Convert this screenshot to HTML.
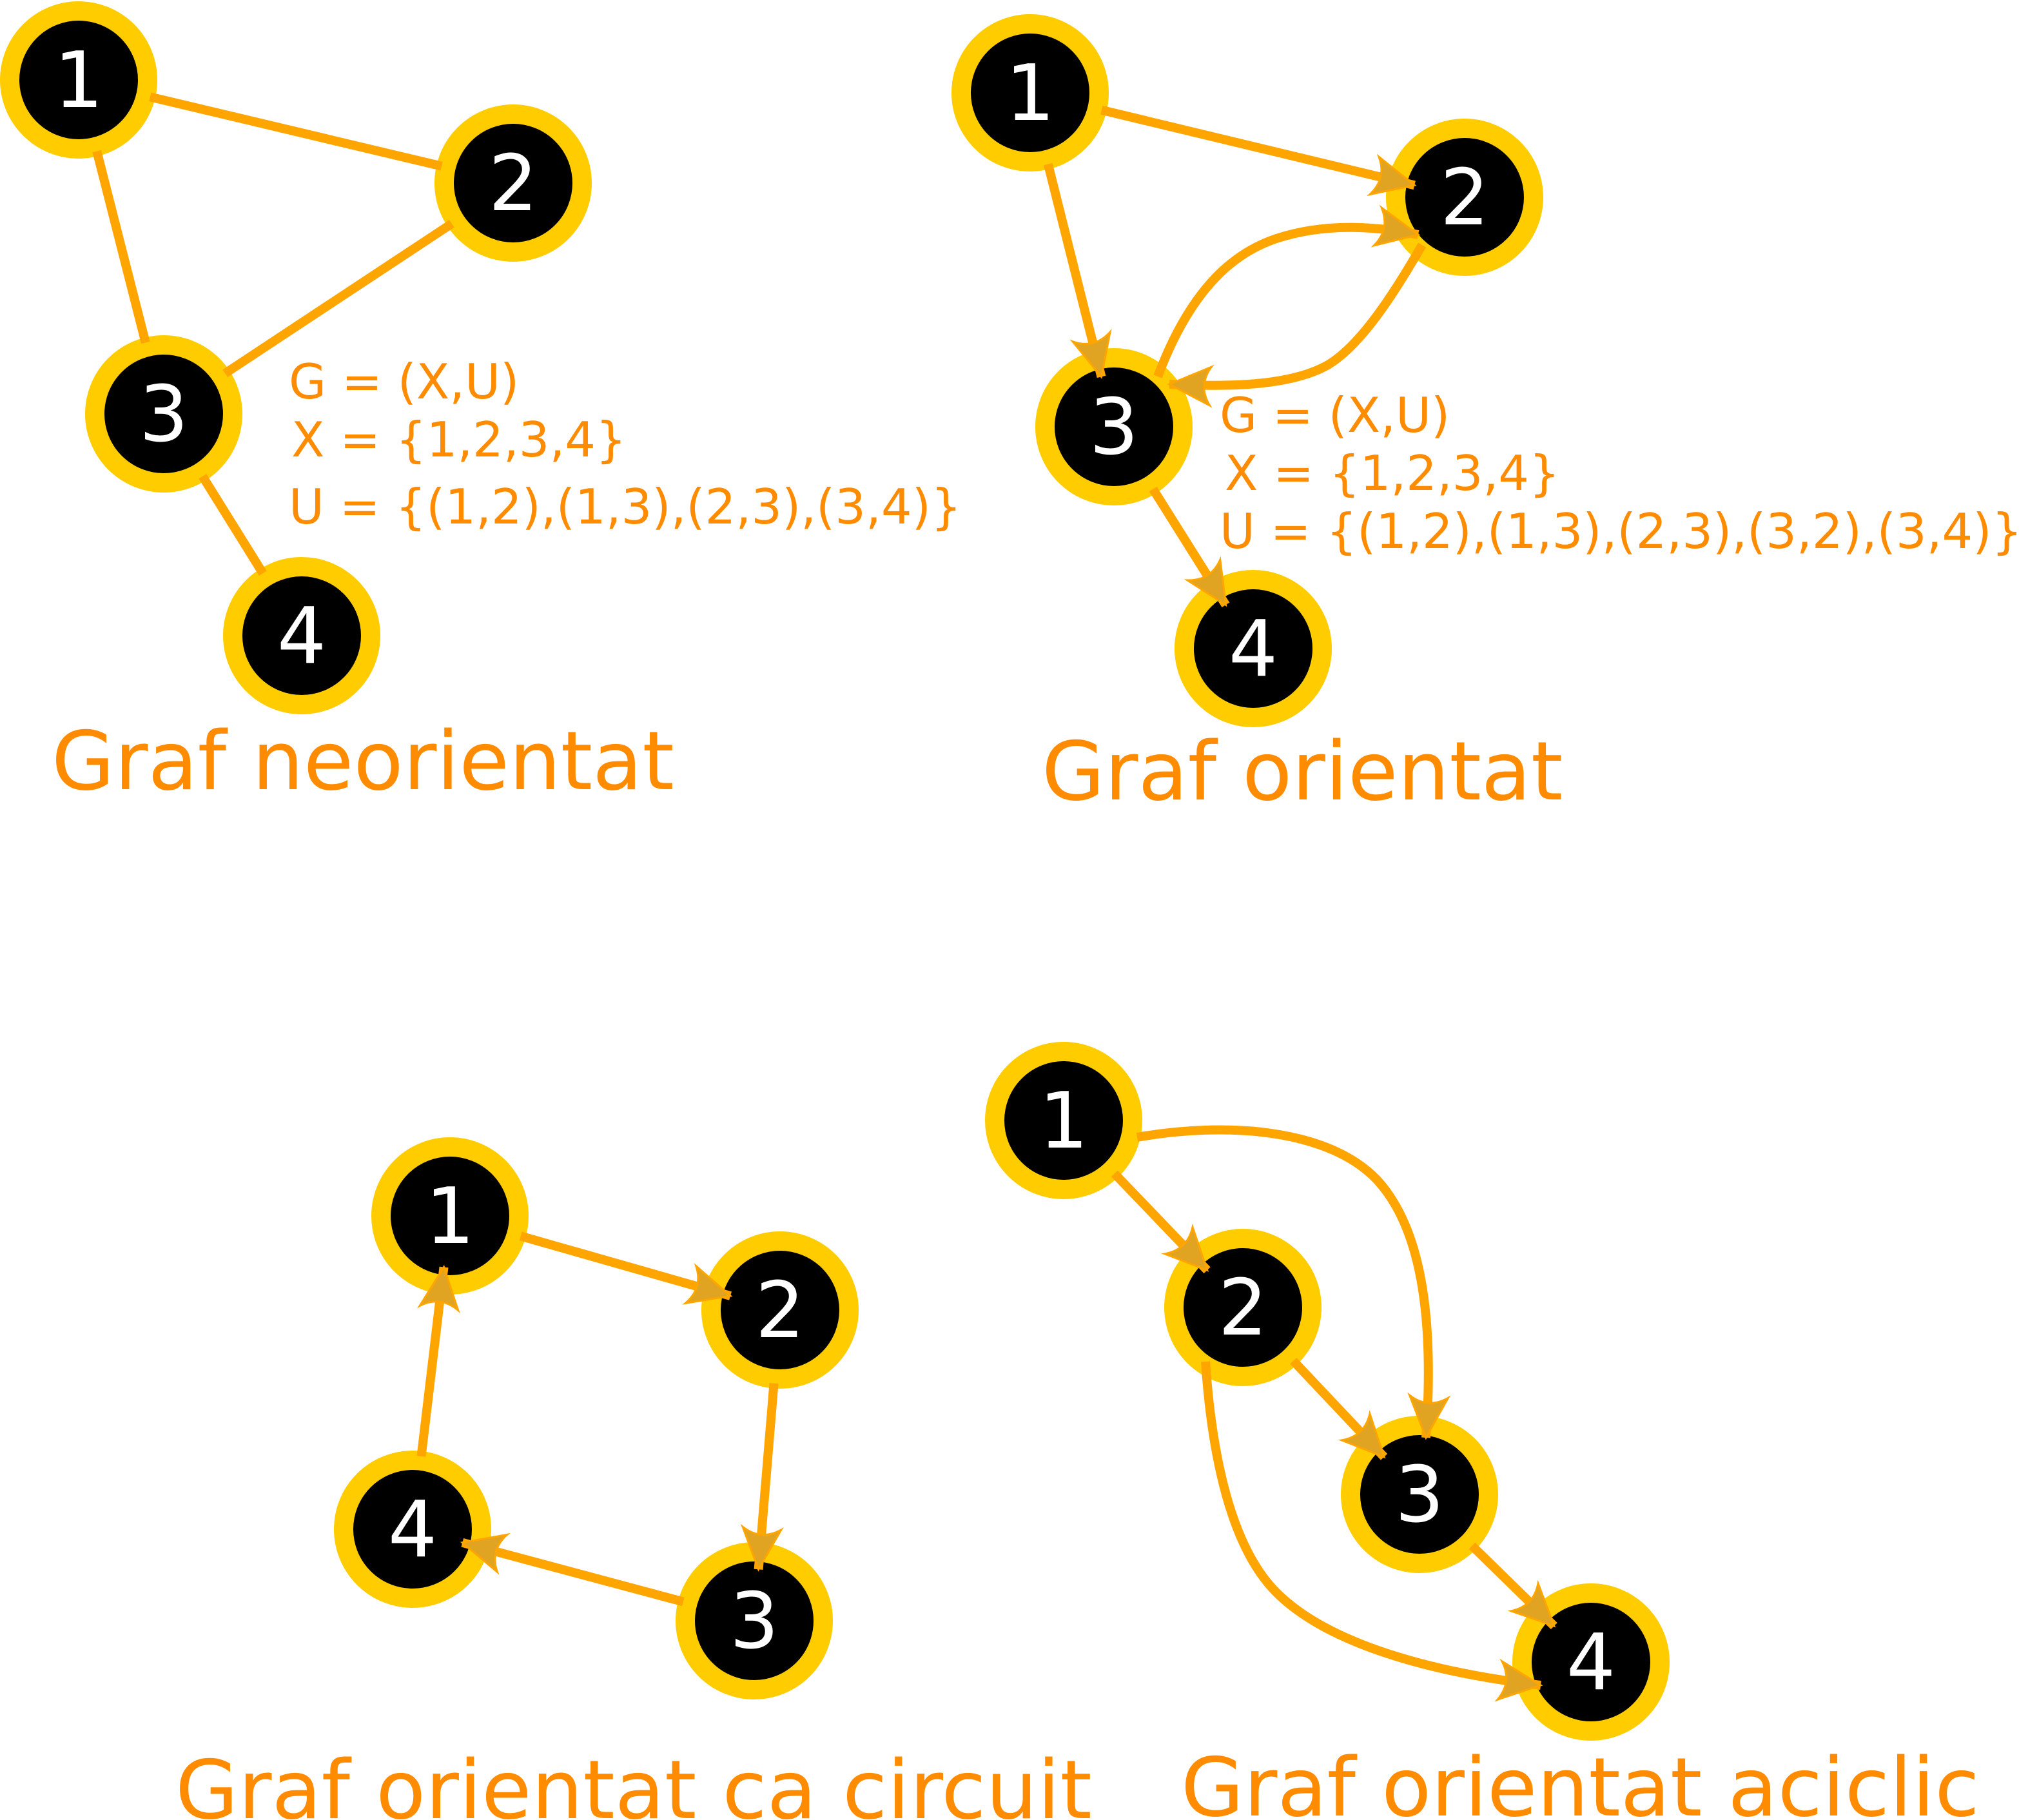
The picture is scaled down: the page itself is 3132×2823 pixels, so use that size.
<!DOCTYPE html>
<html><head><meta charset="utf-8"><style>html,body{margin:0;padding:0;background:#fff}svg{display:block}</style></head>
<body>
<svg id="c" width="3132" height="2823" viewBox="0 0 1566 1411.5" xmlns="http://www.w3.org/2000/svg" font-family="'DejaVu Sans','Liberation Sans',sans-serif">
<defs>
<marker id="ah" markerUnits="userSpaceOnUse" orient="auto" markerWidth="45" markerHeight="40" refX="0" refY="0" viewBox="-40 -20 45 40">
<path d="M0,0 L-32,-15 Q-22,0 -32,15 Z" fill="#e0a422" stroke="#ffa500" stroke-width="1.5"/>
</marker>
</defs>
<g id="edges"></g>
<g id="nodes"></g>
<g fill="#ff8c00" font-size="37.5">
<text x="224" y="309">G = (X,U)</text>
<text x="226" y="354">X = {1,2,3,4}</text>
<text x="224" y="406">U = {(1,2),(1,3),(2,3),(3,4)}</text>
<text x="946" y="335">G = (X,U)</text>
<text x="950" y="380">X = {1,2,3,4}</text>
<text x="946" y="425">U = {(1,2),(1,3),(2,3),(3,2),(3,4)}</text>
</g>
<g fill="#ff8c00" font-size="63">
<text x="40" y="612">Graf neorientat</text>
<text x="808" y="620">Graf orientat</text>
<text x="136" y="1410">Graf orientat ca circuit</text>
<text x="916" y="1408">Graf orientat aciclic</text>
</g>
</svg>
<script>
const NS='http://www.w3.org/2000/svg';
const nodeIds=['a1','a2','a3','a4','b1','b2','b3','b4','c1','c2','c3','c4','d1','d2','d3','d4'];
const nodeX=[61,398,127,234,799,1136,864,972,349,605,585,320,825,964,1101,1234];
const nodeY=[62,142,321,493,72,153,331,503,943,1016,1257,1186,869,1014,1159,1289];
const edgeFrom=['a1','a1','a2','a3','b1','b1','b3','c1','c2','c3','c4','d1','d2','d3'];
const edgeTo=['a2','a3','a3','a4','b2','b3','b4','c2','c3','c4','c1','d2','d3','d4'];
const edgeDirected=[0,0,0,0,1,1,1,1,1,1,1,1,1,1];
const curves=[
 ['b3-b2','M898,292 C925,220 960,195 990,185 C1030,172 1070,176 1100,182'],
 ['b2-b3','M1103,190 C1080,230 1055,268 1030,283 C1000,300 950,300 907,298'],
 ['d1-d3','M882,882 C950,870 1030,875 1068,915 C1105,955 1112,1030 1106,1115'],
 ['d2-d4','M935,1056 C940,1130 955,1200 990,1235 C1030,1275 1110,1297 1195,1307']
];
const eg=document.getElementById('edges'), ng=document.getElementById('nodes');
function pos(id){const i=nodeIds.indexOf(id);return [nodeX[i],nodeY[i]];}
edgeFrom.forEach((f,i)=>{
 const [x1,y1]=pos(f),[x2,y2]=pos(edgeTo[i]);
 const dx=x2-x1,dy=y2-y1,L=Math.hypot(dx,dy),ux=dx/L,uy=dy/L;
 const s=57,e=edgeDirected[i]?40:57;
 const l=document.createElementNS(NS,'line');
 l.setAttribute('x1',x1+ux*s);l.setAttribute('y1',y1+uy*s);
 l.setAttribute('x2',x2-ux*e);l.setAttribute('y2',y2-uy*e);
 l.setAttribute('stroke','#ffa500');l.setAttribute('stroke-width','7');
 if(edgeDirected[i]) l.setAttribute('marker-end','url(#ah)');
 
 
 eg.appendChild(l);
});
curves.forEach(c=>{
 const p=document.createElementNS(NS,'path');
 p.setAttribute('d',c[1]);p.setAttribute('fill','none');
 p.setAttribute('stroke','#ffa500');p.setAttribute('stroke-width','7');
 p.setAttribute('marker-end','url(#ah)');
 
 
 eg.appendChild(p);
});
nodeIds.forEach((id,i)=>{
 const g=document.createElementNS(NS,'g');
 
 
 const c=document.createElementNS(NS,'circle');
 c.setAttribute('cx',nodeX[i]);c.setAttribute('cy',nodeY[i]);c.setAttribute('r','53.5');
 c.setAttribute('fill','#000');c.setAttribute('stroke','#ffcc00');c.setAttribute('stroke-width','15');
 const t=document.createElementNS(NS,'text');
 t.setAttribute('x',nodeX[i]);t.setAttribute('y',nodeY[i]+21);
 t.setAttribute('text-anchor','middle');t.setAttribute('fill','#fff');t.setAttribute('font-size','60');
 t.textContent=id.slice(1);
 g.appendChild(c);g.appendChild(t);ng.appendChild(g);
});
// redraw edges above node rings where arrowheads overlap
ng.parentNode.appendChild(eg);
</script>
</body></html>
